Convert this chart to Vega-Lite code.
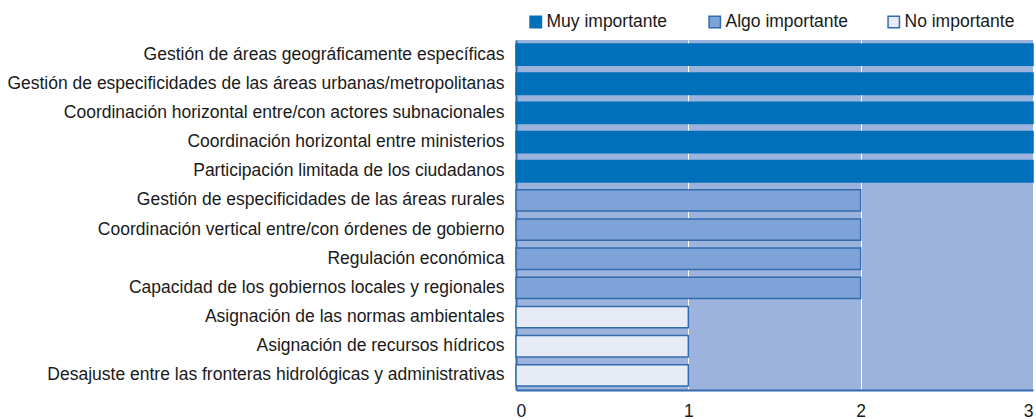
{
  "$schema": "https://vega.github.io/schema/vega-lite/v6.json",
  "autosize": "none",
  "width": 517,
  "height": 350,
  "padding": {"left": 516, "top": 40, "right": 3, "bottom": 29},
  "background": "white",
  "config": {
    "font": "Liberation Sans",
    "view": {"fill": "#9CB4DD", "stroke": null}
  },
  "data": {
    "values": [
      {"tema": "Gestión de áreas geográficamente específicas", "valor": 3, "nivel": "Muy importante"},
      {"tema": "Gestión de especificidades de las áreas urbanas/metropolitanas", "valor": 3, "nivel": "Muy importante"},
      {"tema": "Coordinación horizontal entre/con actores subnacionales", "valor": 3, "nivel": "Muy importante"},
      {"tema": "Coordinación horizontal entre ministerios", "valor": 3, "nivel": "Muy importante"},
      {"tema": "Participación limitada de los ciudadanos", "valor": 3, "nivel": "Muy importante"},
      {"tema": "Gestión de especificidades de las áreas rurales", "valor": 2, "nivel": "Algo importante"},
      {"tema": "Coordinación vertical entre/con órdenes de gobierno", "valor": 2, "nivel": "Algo importante"},
      {"tema": "Regulación económica", "valor": 2, "nivel": "Algo importante"},
      {"tema": "Capacidad de los gobiernos locales y regionales", "valor": 2, "nivel": "Algo importante"},
      {"tema": "Asignación de las normas ambientales", "valor": 1, "nivel": "No importante"},
      {"tema": "Asignación de recursos hídricos", "valor": 1, "nivel": "No importante"},
      {"tema": "Desajuste entre las fronteras hidrológicas y administrativas", "valor": 1, "nivel": "No importante"}
    ]
  },
  "mark": {"type": "bar", "strokeWidth": 1.5},
  "encoding": {
    "y": {
      "field": "tema",
      "type": "nominal",
      "sort": null,
      "scale": {"paddingInner": 0.27, "paddingOuter": 0.135},
      "axis": {
        "title": null,
        "labelLimit": 600,
        "labelFontSize": 17.5,
        "labelColor": "#1a1a1a",
        "labelPadding": 12,
        "ticks": false,
        "domainColor": "#336BAE",
        "domainWidth": 2
      }
    },
    "x": {
      "field": "valor",
      "type": "quantitative",
      "scale": {"domain": [0, 3]},
      "axis": {
        "title": null,
        "values": [0, 1, 2, 3],
        "format": "d",
        "labelFontSize": 17.5,
        "labelColor": "#1a1a1a",
        "labelPadding": 12,
        "ticks": false,
        "domainColor": "#336BAE",
        "domainWidth": 2,
        "gridColor": "white",
        "gridWidth": 1,
        "gridOpacity": 1
      }
    },
    "fill": {
      "field": "nivel",
      "type": "nominal",
      "scale": {
        "domain": ["Muy importante", "Algo importante", "No importante"],
        "range": ["#0070BA", "#7DA3D8", "#E6EBF6"]
      },
      "legend": {
        "title": null,
        "orient": "none",
        "legendX": 11,
        "legendY": -27,
        "direction": "horizontal",
        "symbolType": "square",
        "symbolSize": 130,
        "symbolStrokeWidth": 1.5,
        "labelFontSize": 17.5,
        "labelColor": "#1a1a1a",
        "labelOffset": 2,
        "gridAlign": "all",
        "columnPadding": 36,
        "padding": 0,
        "labelLimit": 300
      }
    },
    "stroke": {
      "field": "nivel",
      "type": "nominal",
      "scale": {
        "domain": ["Muy importante", "Algo importante", "No importante"],
        "range": ["#0070BA", "#336BAE", "#336BAE"]
      },
      "legend": null
    }
  }
}
